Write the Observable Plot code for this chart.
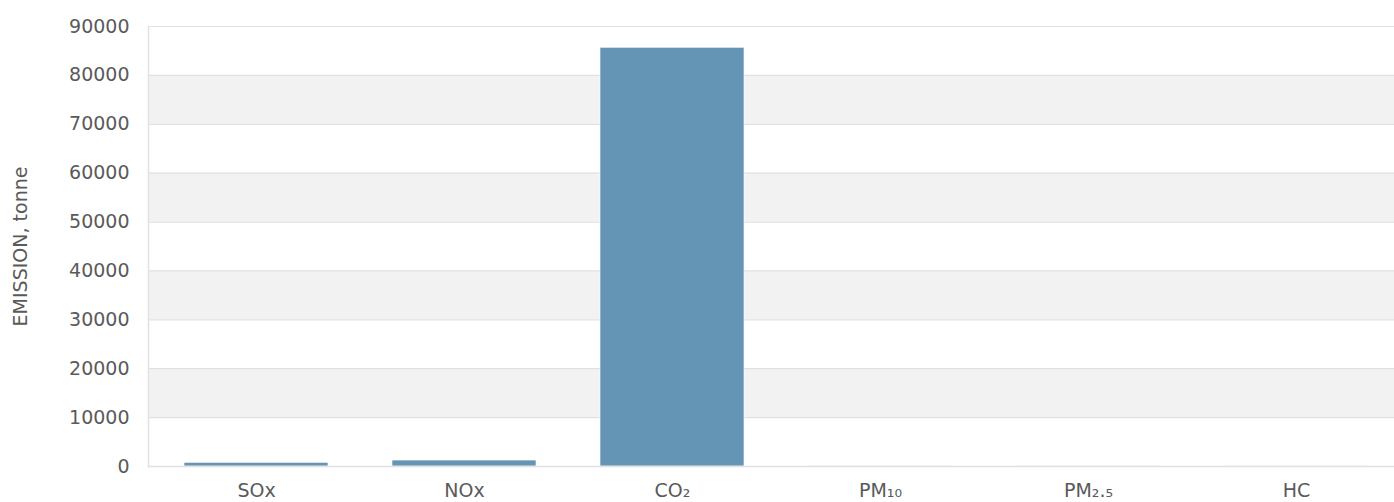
<!DOCTYPE html>
<html>
<head>
<meta charset="utf-8">
<script src="https://cdn.jsdelivr.net/npm/d3@7"></script>
<script src="https://cdn.jsdelivr.net/npm/@observablehq/plot@0.6"></script>
<style>
  html, body { margin: 0; padding: 0; background: #fff; }
  #chart svg { display: block; }
</style>
</head>
<body>
<div id="chart"></div>
<script>
const pollutants = ["SOx", "NOx", "CO\u2082", "PM\u2081\u2080", "PM\u2082.\u2085", "HC"];
const emissions = [750, 1220, 85650, 30, 25, 20];
const yTicks = [0, 10000, 20000, 30000, 40000, 50000, 60000, 70000, 80000, 90000];
const yLabel = "EMISSION, tonne";

const data = pollutants.map((p, i) => ({pollutant: p, value: emissions[i]}));
const bands = [];
for (let i = 1; i < yTicks.length - 1; i += 2) bands.push({y1: yTicks[i], y2: yTicks[i + 1]});

const font = "DejaVu Sans, sans-serif";
const chart = Plot.plot({
  width: 1394,
  height: 502,
  marginLeft: 148,
  marginRight: 0,
  marginTop: 26,
  marginBottom: 36,
  style: {fontFamily: font, fontSize: "19px", color: "#5a5a5a", background: "#fff"},
  x: {domain: pollutants, range: [148, 1403], paddingInner: 0.31, paddingOuter: 0.158},
  y: {domain: [0, 90000]},
  marks: [
    Plot.rectY(bands, {y1: "y1", y2: "y2", fill: "#f2f2f2"}),
    Plot.ruleY(yTicks, {stroke: "#e1e1e1", strokeWidth: 1.2}),
    Plot.barY(data, {x: "pollutant", y: "value", fill: "#6595b4", stroke: "#ffffff", strokeWidth: 0.6}),
    Plot.ruleY([0], {stroke: "#e1e1e1", strokeWidth: 1.5}),
    Plot.frame({anchor: "left", stroke: "#e1e1e1", strokeWidth: 1.5}),
    Plot.axisY({ticks: yTicks, tickSize: 0, tickPadding: 19, tickFormat: d => String(d),
      label: yLabel, labelAnchor: "center", labelArrow: "none", labelOffset: 135, fill: "#5a5a5a"}),
    Plot.axisX({tickSize: 0, tickPadding: 17, label: null, fill: "#5a5a5a"})
  ]
});
document.getElementById("chart").appendChild(chart);
</script>
</body>
</html>
